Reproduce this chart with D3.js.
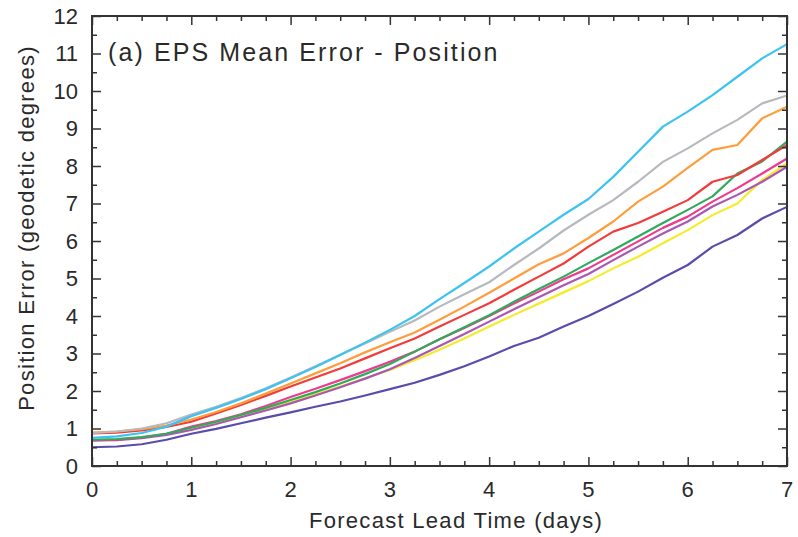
<!DOCTYPE html>
<html>
<head>
<meta charset="utf-8">
<script src="https://cdn.jsdelivr.net/npm/d3@7"></script>
<style>
  body { margin: 0; background: #fff; }
  svg text { font-family: "Liberation Sans", Arial, Helvetica, sans-serif; fill: #2a2a2a; }
</style>
</head>
<body>
<div id="wrapper"></div>
<script>
// lead time in days, every 6 hours
const days = [0, 0.25, 0.5, 0.75, 1, 1.25, 1.5, 1.75, 2, 2.25, 2.5, 2.75, 3, 3.25, 3.5, 3.75,
  4, 4.25, 4.5, 4.75, 5, 5.25, 5.5, 5.75, 6, 6.25, 6.5, 6.75, 7];

const cyanErr = [0.75, 0.79, 0.88, 1.05, 1.33, 1.55, 1.79, 2.05, 2.34, 2.64, 2.96, 3.29, 3.63, 4.0, 4.45, 4.88,
  5.32, 5.8, 6.25, 6.7, 7.12, 7.71, 8.38, 9.05, 9.45, 9.89, 10.38, 10.87, 11.25];
const grayErr = [0.88, 0.92, 1.0, 1.14, 1.37, 1.58, 1.81, 2.07, 2.36, 2.66, 2.97, 3.27, 3.58, 3.88, 4.25, 4.58,
  4.9, 5.36, 5.8, 6.28, 6.7, 7.09, 7.58, 8.11, 8.47, 8.87, 9.23, 9.67, 9.88];
const orangeErr = [0.89, 0.92, 0.98, 1.08, 1.24, 1.44, 1.67, 1.93, 2.2, 2.47, 2.74, 3.03, 3.3, 3.56, 3.9, 4.25,
  4.62, 5.0, 5.38, 5.67, 6.08, 6.52, 7.05, 7.45, 7.95, 8.43, 8.56, 9.27, 9.58];
const redErr = [0.87, 0.89, 0.95, 1.04, 1.18, 1.4, 1.63, 1.87, 2.12, 2.36, 2.6, 2.87, 3.14, 3.4, 3.72, 4.03,
  4.34, 4.7, 5.05, 5.4, 5.85, 6.25, 6.48, 6.78, 7.09, 7.58, 7.76, 8.16, 8.56];
const greenErr = [0.7, 0.72, 0.77, 0.86, 1.02, 1.18, 1.36, 1.55, 1.76, 1.97, 2.2, 2.45, 2.72, 3.05, 3.38, 3.7,
  4.02, 4.38, 4.72, 5.05, 5.41, 5.76, 6.12, 6.48, 6.83, 7.19, 7.8, 8.12, 8.65];
const pinkErr = [0.68, 0.7, 0.76, 0.86, 1.05, 1.2, 1.38, 1.6, 1.84, 2.06, 2.29, 2.53, 2.78, 3.05, 3.38, 3.68,
  4.0, 4.33, 4.65, 4.98, 5.27, 5.63, 5.99, 6.35, 6.65, 7.05, 7.41, 7.8, 8.2];
const purpleErr = [0.68, 0.69, 0.74, 0.83, 0.96, 1.12, 1.3, 1.48, 1.67, 1.88, 2.1, 2.33, 2.58, 2.88, 3.2, 3.52,
  3.85, 4.18, 4.5, 4.82, 5.12, 5.49, 5.85, 6.2, 6.52, 6.92, 7.23, 7.58, 7.98];
const yellowErr = [0.7, 0.71, 0.76, 0.85, 1.0, 1.15, 1.33, 1.51, 1.71, 1.91, 2.12, 2.34, 2.56, 2.82, 3.1, 3.4,
  3.72, 4.03, 4.33, 4.63, 4.93, 5.27, 5.58, 5.94, 6.29, 6.69, 7.0, 7.63, 8.07];
const indigoErr = [0.5, 0.52, 0.58, 0.7, 0.86, 0.99, 1.14, 1.29, 1.43, 1.58, 1.72, 1.88, 2.05, 2.22, 2.43, 2.66,
  2.92, 3.2, 3.42, 3.72, 4.0, 4.32, 4.65, 5.02, 5.36, 5.85, 6.16, 6.6, 6.91];

const xTicks = [0, 1, 2, 3, 4, 5, 6, 7];
const yTicks = [0, 1, 2, 3, 4, 5, 6, 7, 8, 9, 10, 11, 12];

const series = [
  { values: indigoErr, color: '#5a4cab' },
  { values: yellowErr, color: '#f4ec2a' },
  { values: purpleErr, color: '#a957b3' },
  { values: pinkErr, color: '#f03a8e' },
  { values: greenErr, color: '#2fab5c' },
  { values: redErr, color: '#f23c3c' },
  { values: orangeErr, color: '#ff9d3c' },
  { values: grayErr, color: '#b6babe' },
  { values: cyanErr, color: '#3dc2f2' }
];

let dimensions = {
  width: 798,
  height: 537,
  margin: { top: 16, right: 11, bottom: 71, left: 92 }
};
dimensions.boundedWidth = dimensions.width - dimensions.margin.left - dimensions.margin.right;
dimensions.boundedHeight = dimensions.height - dimensions.margin.top - dimensions.margin.bottom;

const wrapper = d3.select('#wrapper')
  .append('svg')
  .attr('width', dimensions.width)
  .attr('height', dimensions.height);

const bounds = wrapper.append('g')
  .attr('transform', `translate(${dimensions.margin.left},${dimensions.margin.top})`);

const xScale = d3.scaleLinear().domain([0, 7]).range([0, dimensions.boundedWidth]);
const yScale = d3.scaleLinear().domain([0, 12]).range([dimensions.boundedHeight, 0]);

// lines
const lineDrawer = d3.line()
  .x((d, i) => xScale(days[i]))
  .y(d => yScale(d));

bounds.selectAll('.series')
  .data(series)
  .join('path')
  .attr('class', 'series')
  .attr('d', d => lineDrawer(d.values))
  .attr('fill', 'none')
  .attr('stroke', d => d.color)
  .attr('stroke-width', 2.2)
  .attr('stroke-linejoin', 'round');

// inward ticks on all four sides
const minorX = d3.range(0, 7.001, 0.25).filter(v => Math.abs(v - Math.round(v)) > 0.01);
const minorY = d3.range(0.5, 12, 1);
const axisColor = '#333';

function tickAxis(axisFn, scale, values, size, transform) {
  const g = bounds.append('g')
    .attr('transform', transform)
    .call(axisFn(scale).tickValues(values).tickSize(size).tickFormat(''));
  g.select('.domain').remove();
  g.selectAll('line').attr('stroke', axisColor).attr('stroke-width', 1.5);
  return g;
}
const H = dimensions.boundedHeight, W = dimensions.boundedWidth;
tickAxis(d3.axisTop, xScale, xTicks, 9, `translate(0,${H})`);
tickAxis(d3.axisTop, xScale, minorX, 5, `translate(0,${H})`);
tickAxis(d3.axisBottom, xScale, xTicks, 9, 'translate(0,0)');
tickAxis(d3.axisBottom, xScale, minorX, 5, 'translate(0,0)');
tickAxis(d3.axisRight, yScale, yTicks, 9, 'translate(0,0)');
tickAxis(d3.axisRight, yScale, minorY, 5, 'translate(0,0)');
tickAxis(d3.axisLeft, yScale, yTicks, 9, `translate(${W},0)`);
tickAxis(d3.axisLeft, yScale, minorY, 5, `translate(${W},0)`);

// frame
bounds.append('rect')
  .attr('width', W)
  .attr('height', H)
  .attr('fill', 'none')
  .attr('stroke', axisColor)
  .attr('stroke-width', 2);

// tick labels
bounds.append('g')
  .selectAll('text')
  .data(xTicks)
  .join('text')
  .attr('x', d => xScale(d))
  .attr('y', H + 31)
  .attr('text-anchor', 'middle')
  .style('font-size', '22px')
  .text(d => d);

bounds.append('g')
  .selectAll('text')
  .data(yTicks)
  .join('text')
  .attr('x', -14)
  .attr('y', d => yScale(d))
  .attr('dy', '0.36em')
  .attr('text-anchor', 'end')
  .style('font-size', '22px')
  .text(d => d);

// axis titles
wrapper.append('text')
  .attr('x', 456)
  .attr('y', 528)
  .attr('text-anchor', 'middle')
  .style('font-size', '22px')
  .style('letter-spacing', '1.3px')
  .text('Forecast Lead Time (days)');

wrapper.append('text')
  .attr('transform', 'translate(34,228) rotate(-90)')
  .attr('text-anchor', 'middle')
  .style('font-size', '22px')
  .style('letter-spacing', '1.3px')
  .text('Position Error (geodetic degrees)');

// panel title
bounds.append('text')
  .attr('x', 16)
  .attr('y', 45)
  .style('font-size', '25px')
  .style('letter-spacing', '2.1px')
  .text('(a) EPS Mean Error - Position');
</script>
</body>
</html>
